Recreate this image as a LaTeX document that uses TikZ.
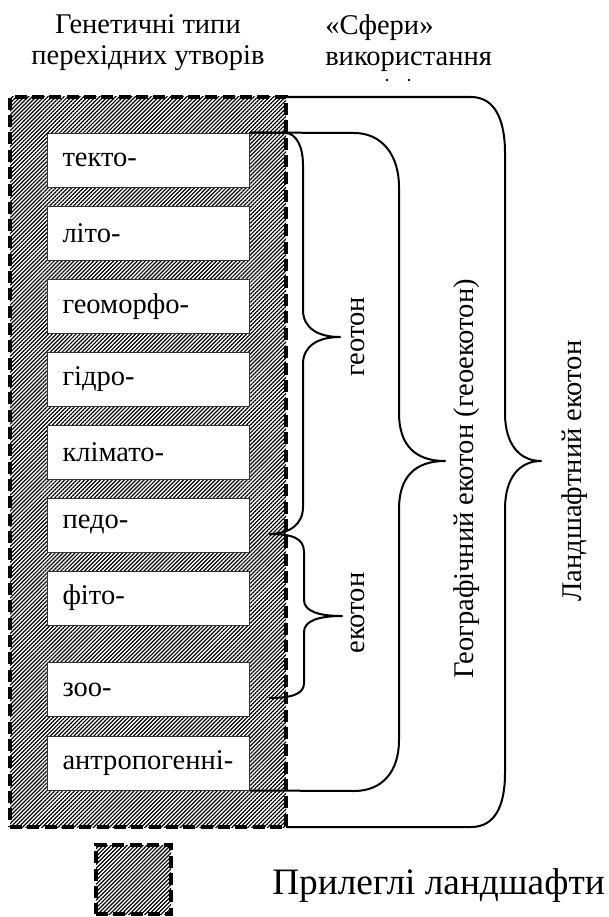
\documentclass[tikz,border=0pt]{standalone}
\usepackage{fontspec}
\setmainfont{LiberationSerif}[Extension=.ttf,UprightFont=*-Regular,BoldFont=*-Bold,
  ItalicFont=*-Italic,BoldItalicFont=*-BoldItalic]
\usetikzlibrary{shapes,calc,patterns.meta}
\usepackage{xcolor}

\begin{document}
\begin{tikzpicture}[x=0.75pt,y=-0.75pt,
  hatched/.style={draw,line width=2.5pt,dash pattern=on 9pt off 4pt,outer sep=0pt,
    pattern={Lines[angle=45,distance=2.1pt,line width=0.9pt]}},
  typebox/.style={draw=black!80,fill=white,line width=0.75pt,minimum width=151.5pt,
    minimum height=40.5pt,text width=129pt,inner xsep=11.25pt,align=left,
    font=\fontsize{21.4}{23}\selectfont},
  brace/.style={line width=1.5pt,line join=round},
  sidelabel/.style={rotate=90,font=\fontsize{21.4}{23}\selectfont}]

  \useasboundingbox (0,0) rectangle (608,917);
  % \draw[step=50,thin,gray] (0,0) grid (608,917);

  \draw (148,14) node (gentitle) [anchor=north,align=center,inner sep=0pt,font=\fontsize{21.4}{23.25}\selectfont] {Генетичні типи\\перехідних утворів};
  \draw (325,14) node (sphtitle) [anchor=north west,align=left,inner sep=0pt,font=\fontsize{21.4}{23.25}\selectfont] {«Сфери»\\використання};
  \fill (387,80) circle (1pt);
  \fill (409,80) circle (1pt);

  \draw (148,462) node (area) [hatched,minimum width=207pt,minimum height=547.5pt] {};

  \draw (148.5,160) node (tekto) [typebox] {текто-};
  \draw (148.5,233) node (lito) [typebox] {літо-};
  \draw (148.5,306.5) node (geomorfo) [typebox] {геоморфо-};
  \draw (148.5,379.5) node (hidro) [typebox] {гідро-};
  \draw (148.5,452) node (klimato) [typebox] {клімато-};
  \draw (148.5,525) node (pedo) [typebox] {педо-};
  \draw (148.5,598) node (fito) [typebox] {фіто-};
  \draw (148.5,689.5) node (zoo) [typebox] {зоо-};
  \draw (148.5,763) node (antropo) [typebox] {антропогенні-};

  \coordinate (pedo-x) at ($(pedo.east)+(19,9)$);
  \coordinate (zoo-x) at ($(zoo.east)+(19,8.5)$);

  % geoton
  \draw[brace] (tekto.north east) -- (285,133) .. controls (296,133) and (303,146) .. (303,165)
    -- (303,310) .. controls (303,328) and (318,337) .. (340,337)
    .. controls (318,337) and (303,346) .. (303,364)
    -- (303,507) .. controls (303,524) and (290,534) .. (pedo-x);
  \draw (358,337) node (geoton) [sidelabel] {геотон};

  % ekoton
  \draw[brace] (pedo-x) .. controls (292,534) and (304,538) .. (304,552)
    -- (304,600) .. controls (304,611) and (318,616) .. (342,616)
    .. controls (318,616) and (304,621) .. (304,632)
    -- (304,683) .. controls (304,694) and (292,698) .. (zoo-x);
  \draw (358,613) node (ekoton) [sidelabel] {екотон};

  % geoekoton
  \draw[brace] (tekto.north east) -- (354,133) .. controls (382,133) and (399,155) .. (399,187)
    -- (399,413) .. controls (399,445) and (415,461) .. (445,461)
    .. controls (415,461) and (399,477) .. (399,509)
    -- (399,740) .. controls (399,772) and (382,791) .. (354,791) -- (antropo.south east);
  \draw (467,479) node (geoekoton) [sidelabel] {Географічний екотон (геоекотон)};

  % landshaft
  \draw[brace] (area.north east) -- (471,97) .. controls (495,97) and (505,120) .. (505,153)
    -- (505,413) .. controls (505,445) and (520,461) .. (541,461)
    .. controls (520,461) and (505,477) .. (505,509)
    -- (505,773) .. controls (505,806) and (495,827) .. (471,827) -- (area.south east);
  \draw (575,471) node (landekoton) [sidelabel] {Ландшафтний екотон};

  \draw (133.5,879.5) node (legbox) [hatched,minimum width=56.25pt,minimum height=51.75pt] {};
  \draw (272,894) node (legtext) [anchor=base west,inner sep=0pt,font=\fontsize{28}{30}\selectfont] {Прилеглі ландшафти};

\end{tikzpicture}
\end{document}
